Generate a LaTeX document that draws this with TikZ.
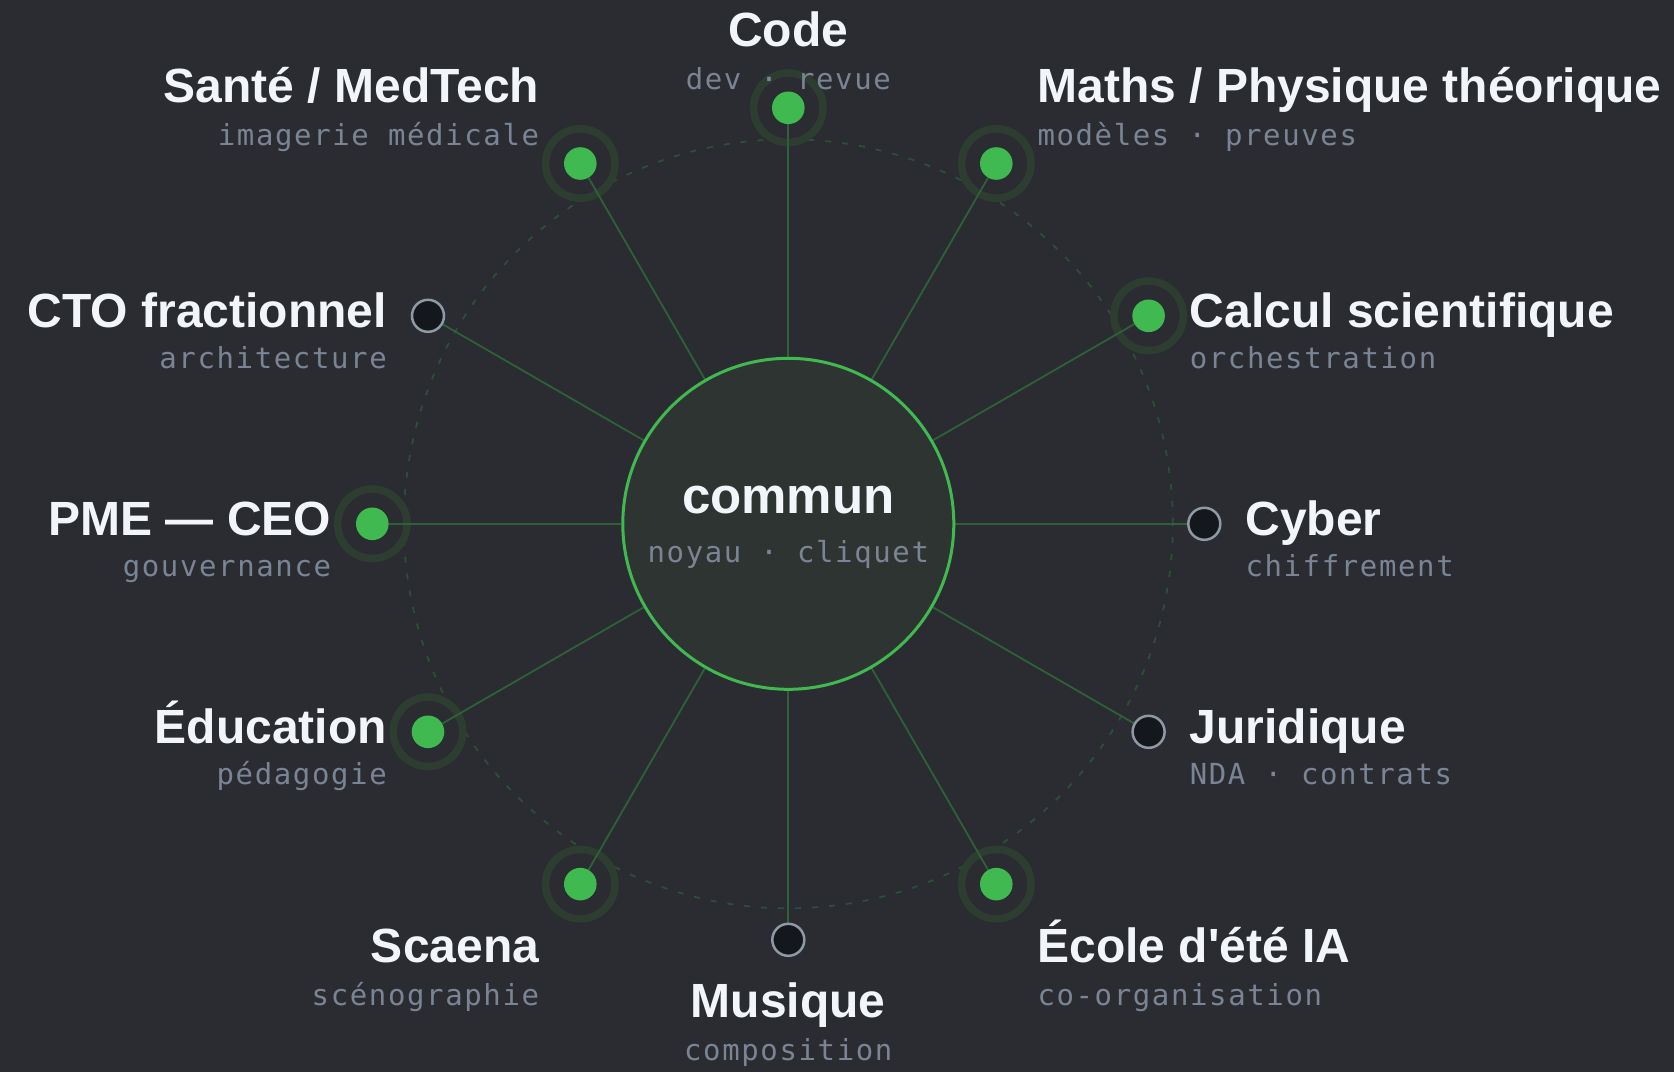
\documentclass[tikz,border=0pt]{standalone}
\usepackage{fontspec}
\setmainfont{Liberation Sans}
\newfontfamily\titlef{Liberation Sans}
\newfontfamily\monof[LetterSpace=5.6]{DejaVu Sans Mono}
\definecolor{bgcol}{HTML}{2A2C31}
\definecolor{hubfill}{HTML}{2E3431}
\definecolor{hubgreen}{HTML}{3FB950}
\definecolor{dotgreen}{HTML}{3FB950}
\definecolor{dotdark}{HTML}{14171C}
\definecolor{dotring}{HTML}{8F99A6}
\definecolor{halocol}{HTML}{2D3E31}
\definecolor{spokecol}{HTML}{2F6139}
\definecolor{dashcol}{HTML}{304D37}
\definecolor{titlecol}{HTML}{F2F5F9}
\definecolor{subcol}{HTML}{7B8494}
\pgfdeclarelayer{bg}
\pgfsetlayers{bg,main}
\tikzset{
  hub/.style={circle, minimum size=331pt, inner sep=0pt, draw=hubgreen, line width=3pt, fill=hubfill},
  greendot/.style={circle, minimum size=32.6pt, inner sep=0pt, fill=dotgreen},
  graydot/.style={circle, minimum size=32pt, inner sep=0pt, fill=dotdark, draw=dotring, line width=2.5pt},
  halo/.style={draw=halocol, line width=7.5pt},
  spoke/.style={draw=spokecol, line width=1.8pt},
  ttl/.style={inner sep=0pt, text=titlecol, font=\titlef\fontsize{48}{56}\selectfont\bfseries},
  hubttl/.style={inner sep=0pt, text=titlecol, font=\titlef\fontsize{51}{60}\selectfont\bfseries},
  sub/.style={inner sep=0pt, text=subcol, font=\monof\fontsize{29}{34}\selectfont},
}
\begin{document}
\begin{tikzpicture}[x=1pt,y=-1pt]
\useasboundingbox (0,0) rectangle (1674,1072);
% hub
\node[hub] (hub) at (788.3,523.8) {};
\node[hubttl, anchor=base] (hubt) at (788.3,513) {commun};
\node[sub, anchor=base] (hubs) at (788.3,562.7) {noyau · cliquet};
% dots
\node[greendot] (d1) at (788.3,107.8) {};
\node[greendot] (d2) at (996.3,163.5) {};
\node[greendot] (d3) at (1148.6,315.8) {};
\node[graydot]  (d4) at (1204.3,523.8) {};
\node[graydot]  (d5) at (1148.6,731.8) {};
\node[greendot] (d6) at (996.3,884.1) {};
\node[graydot]  (d7) at (788.3,939.8) {};
\node[greendot] (d8) at (580.3,884.1) {};
\node[greendot] (d9) at (428,731.8) {};
\node[greendot] (d10) at (372.3,523.8) {};
\node[graydot]  (d11) at (428,315.8) {};
\node[greendot] (d12) at (580.3,163.5) {};
% labels
\node[ttl, anchor=base] (t1) at (788.3,46.8) {Code};
\node[sub, anchor=base] (s1) at (788.3,89.3) {dev · revue};
\node[ttl, anchor=base west] (t2) at (1037.3,102.5) {Maths / Physique théorique};
\node[sub, anchor=base west] (s2) at (1037.3,145) {modèles · preuves};
\node[ttl, anchor=base west] (t3) at (1189.6,327.3) {Calcul scientifique};
\node[sub, anchor=base west] (s3) at (1189.6,368.8) {orchestration};
\node[ttl, anchor=base west] (t4) at (1245.3,535.3) {Cyber};
\node[sub, anchor=base west] (s4) at (1245.3,576.8) {chiffrement};
\node[ttl, anchor=base west] (t5) at (1189.6,743.3) {Juridique};
\node[sub, anchor=base west] (s5) at (1189.6,784.8) {NDA · contrats};
\node[ttl, anchor=base west] (t6) at (1037.3,962.1) {École d'été IA};
\node[sub, anchor=base west] (s6) at (1037.3,1005.1) {co-organisation};
\node[ttl, anchor=base] (t7) at (788.3,1017.8) {Musique};
\node[sub, anchor=base] (s7) at (788.3,1060.8) {composition};
\node[ttl, anchor=base east] (t8) at (539.3,962.1) {Scaena};
\node[sub, anchor=base east] (s8) at (539.3,1005.1) {scénographie};
\node[ttl, anchor=base east] (t9) at (387,743.3) {Éducation};
\node[sub, anchor=base east] (s9) at (387,784.8) {pédagogie};
\node[ttl, anchor=base east] (t10) at (331.3,535.3) {PME — CEO};
\node[sub, anchor=base east] (s10) at (331.3,576.8) {gouvernance};
\node[ttl, anchor=base east] (t11) at (387,327.3) {CTO fractionnel};
\node[sub, anchor=base east] (s11) at (387,368.8) {architecture};
\node[ttl, anchor=base east] (t12) at (539.3,102.5) {Santé / MedTech};
\node[sub, anchor=base east] (s12) at (539.3,145) {imagerie médicale};
\begin{pgfonlayer}{bg}
  \fill[bgcol] (0,0) rectangle (1674,1072);
  \draw[dashcol, line width=1.8pt, dash pattern=on 6pt off 11pt] (hub.center) circle[radius=384.5pt];
  \foreach \d in {d1,d2,d3,d6,d8,d9,d10,d12}
    \draw[halo] (\d.center) circle[radius=34.7pt];
  \foreach \d in {d1,d2,d3,d4,d5,d6,d7,d8,d9,d10,d11,d12}
    \draw[spoke] (hub) -- (\d);
\end{pgfonlayer}
\end{tikzpicture}
\end{document}
